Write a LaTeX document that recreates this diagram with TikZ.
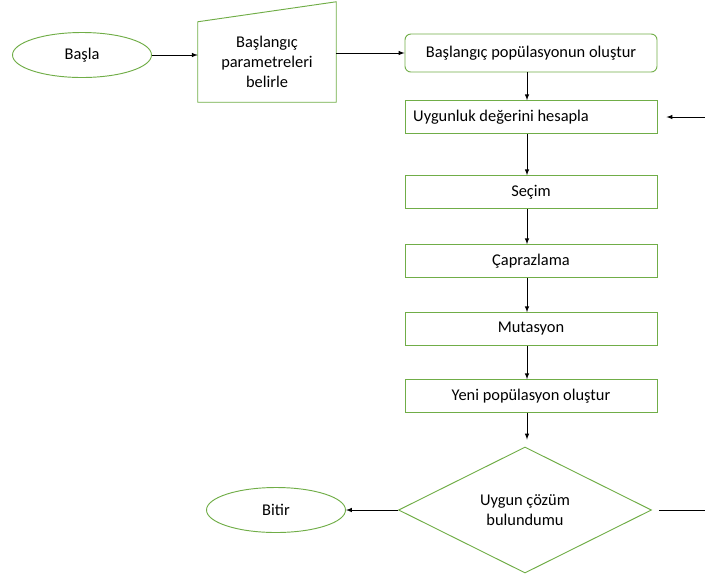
\documentclass[tikz,border=0pt]{standalone}
\usepackage{fontspec}
\setmainfont{Carlito}
\usetikzlibrary{shapes.geometric}
\definecolor{ggreen}{RGB}{112,173,71}
\tikzstyle{term}   = [ellipse, draw=ggreen, line width=0.8pt, minimum width=4.17cm, minimum height=1.35cm]
\tikzstyle{box}    = [rectangle, draw=ggreen, line width=0.8pt, minimum width=7.56cm, minimum height=0.98cm]
\tikzstyle{dec}    = [diamond, draw=ggreen, line width=0.8pt, minimum width=7.59cm, minimum height=3.78cm, inner sep=0pt, align=center]
\tikzstyle{flow}   = [->, >=latex, line width=0.75pt]

\begin{document}
\begin{tikzpicture}[x=0.03cm, y=-0.03cm, font=\fontsize{14}{16}\selectfont]
    \useasboundingbox (0,0) rectangle (705,575);
    \node[term] (basla) at (82,55) {Başla};
    \node[minimum width=4.14cm, minimum height=2.4cm, align=center] (param) at (267,62) {Başlangıç\\[0.2ex]parametreleri\\[0.2ex]belirle};
    \draw[ggreen, line width=0.8pt] (param.south west) -- (param.south east) -- ([yshift=0.6cm]param.north east) -- (param.north west) -- cycle;
    \node[box, rounded corners=5pt, minimum height=1.14cm] (init) at (531,53) {Başlangıç popülasyonun oluştur};
    \node[box] (fit) at (531,117) {};
    \node[anchor=west, inner sep=0pt] (fittext) at (413,117) {Uygunluk değerini hesapla};
    \node[box] (sec) at (531,192) {Seçim};
    \node[box] (cap) at (531,261) {Çaprazlama};
    \node[box] (mut) at (531,329) {Mutasyon};
    \node[box] (yeni) at (531,396) {Yeni popülasyon oluştur};
    \node[dec] (karar) at (525,510) {Uygun çözüm\\[0.2ex]bulundumu};
    \node[term] (bitir) at (276,510) {Bitir};
    \coordinate (geri) at (705,117);
    \coordinate (sag) at (705,510);
    % connectors
    \draw[flow] (basla.east) -- (basla.east -| param.west);
    \draw[flow] (param.east |- init.west) -- (init.west);
    \draw[flow] (init.south -| 527,0) -- (fit.north -| 527,0);
    \draw[flow] (fit.south -| 527,0) -- (sec.north -| 527,0);
    \draw[flow] (sec.south -| 527,0) -- (cap.north -| 527,0);
    \draw[flow] (cap.south -| 527,0) -- (mut.north -| 527,0);
    \draw[flow] (mut.south -| 527,0) -- (yeni.north -| 527,0);
    \draw[flow] (yeni.south -| 527,0) -- ([yshift=0.21cm]karar.north -| 527,0);
    \draw[flow] (geri) -- ([xshift=0.27cm]fit.east);
    \draw[flow] (karar.west) -- (bitir.east);
    \draw[line width=0.75pt] ([xshift=0.21cm]karar.east) -- (sag);
\end{tikzpicture}
\end{document}
